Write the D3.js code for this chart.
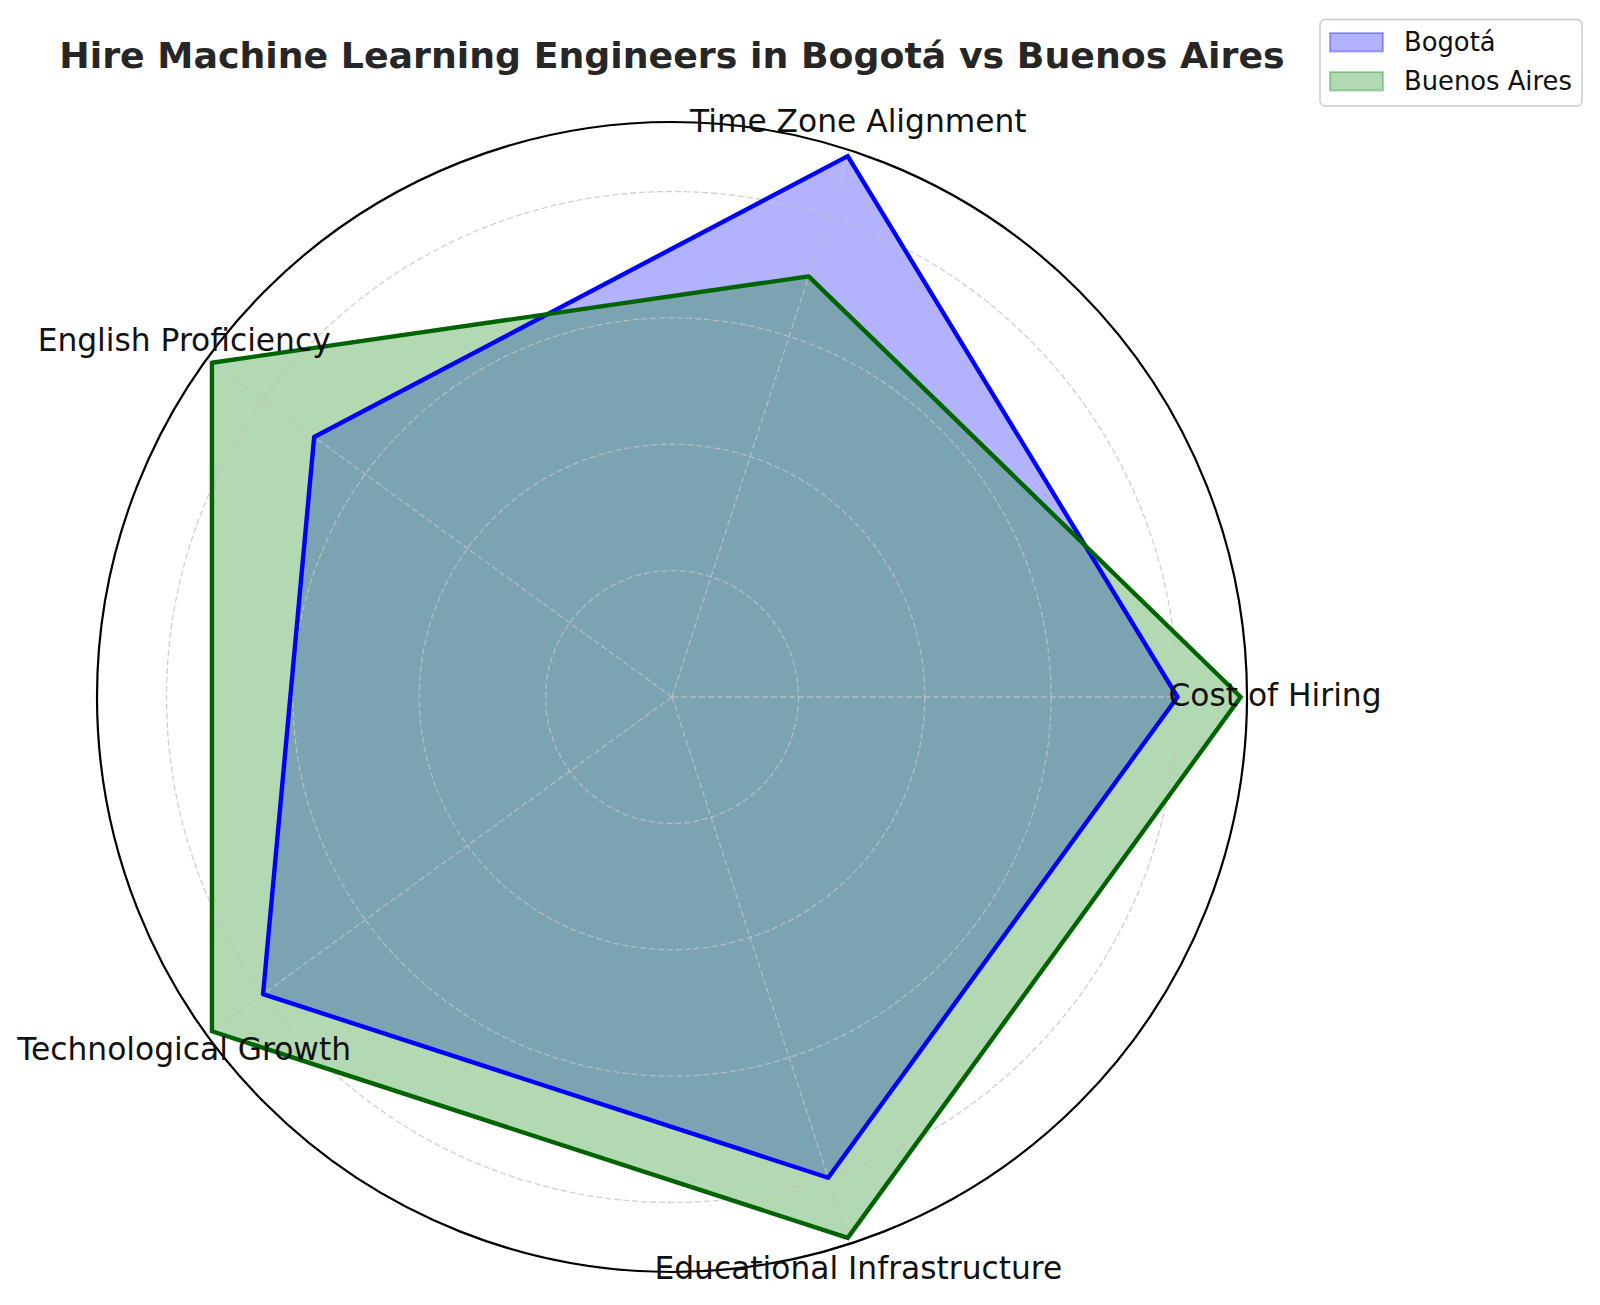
<!doctype html>
<html lang="en">
<head>
  <meta charset="utf-8" />
  <title>Hire Machine Learning Engineers in Bogotá vs Buenos Aires</title>
  <script src="https://d3js.org/d3.v7.min.js"></script>
  <style>
    body { margin: 0; background: #fff; }
    text { font-family: "DejaVu Sans", sans-serif; }
  </style>
</head>
<body>
  <div id="chart"></div>
  <script>
    // chart data
    const categories = ["Cost of Hiring", "Time Zone Alignment", "English Proficiency",
      "Technological Growth", "Educational Infrastructure"];
    const bogota = [8, 9, 7, 8, 8];
    const buenosAires = [9, 7, 9, 9, 9];
    const radialTicks = [2, 4, 6, 8];
    const seriesNames = ["Bogotá", "Buenos Aires"];

    const width = 1600,
      height = 1305;
    const cx = 672, cy = 697, outerR = 575;
    const rMax = 9.1;

    const svg = d3.select("#chart")
      .append("svg")
      .attr("width", width)
      .attr("height", height);

    const r = d3.scaleLinear().domain([0, rMax]).range([0, outerR]);
    // math angle (counterclockwise from 3 o'clock) for category i
    const theta = d3.scaleLinear().domain([0, categories.length]).range([0, 2 * Math.PI]);
    // d3 radial angle: 0 at 12 o'clock, clockwise
    const radialAngle = i => Math.PI / 2 - theta(i);

    const g = svg.append("g").attr("transform", `translate(${cx}, ${cy})`);

    const series = [
      { name: seriesNames[0], values: bogota, fill: "blue", line: "blue" },
      { name: seriesNames[1], values: buenosAires, fill: "green", line: "darkgreen" }
    ];

    const radarLine = d3.lineRadial()
      .angle((d, i) => radialAngle(i))
      .radius(d => r(d))
      .curve(d3.curveLinearClosed);

    // fills first (patches sit below grid)
    g.selectAll(".area")
      .data(series)
      .join("path")
      .attr("class", "area")
      .attr("d", d => radarLine(d.values))
      .attr("fill", d => d.fill)
      .attr("fill-opacity", 0.3)
      .attr("stroke", "none");

    // grid
    const gridG = g.append("g")
      .attr("stroke", "#c4c4c4")
      .attr("stroke-opacity", 0.8)
      .attr("stroke-width", 1.3)
      .attr("stroke-dasharray", "6,3")
      .attr("fill", "none");

    gridG.selectAll("circle")
      .data(radialTicks)
      .join("circle")
      .attr("r", d => r(d));

    gridG.selectAll("line")
      .data(categories)
      .join("line")
      .attr("x1", 0).attr("y1", 0)
      .attr("x2", (d, i) => r(rMax) * Math.cos(theta(i)))
      .attr("y2", (d, i) => -r(rMax) * Math.sin(theta(i)));

    // outlines
    g.selectAll(".outline")
      .data(series)
      .join("path")
      .attr("class", "outline")
      .attr("d", d => radarLine(d.values))
      .attr("fill", "none")
      .attr("stroke", d => d.line)
      .attr("stroke-width", 4.4)
      .attr("stroke-linejoin", "round");

    // outer spine
    g.append("circle")
      .attr("r", r(rMax))
      .attr("fill", "none")
      .attr("stroke", "black")
      .attr("stroke-width", 2.2);

    // category labels
    const labelR = r(rMax) + 28;
    g.selectAll(".cat")
      .data(categories)
      .join("text")
      .attr("class", "cat")
      .attr("x", (d, i) => labelR * Math.cos(theta(i)))
      .attr("y", (d, i) => -labelR * Math.sin(theta(i)) + 8.8)
      .attr("text-anchor", "middle")
      .style("font-size", "31.3px")
      .style("fill", "#111")
      .text(d => d);

    // title
    svg.append("text")
      .attr("x", cx)
      .attr("y", 68)
      .attr("text-anchor", "middle")
      .style("font-size", "36.3px")
      .style("font-weight", "bold")
      .style("fill", "#262626")
      .text("Hire Machine Learning Engineers in Bogotá vs Buenos Aires");

    // legend
    const legendG = svg.append("g");
    legendG.append("rect")
      .attr("x", 1320).attr("y", 19.5)
      .attr("width", 262).attr("height", 86.5)
      .attr("rx", 5)
      .attr("fill", "white")
      .attr("fill-opacity", 0.8)
      .attr("stroke", "#cccccc")
      .attr("stroke-width", 1.5);

    const rowH = 39;
    legendG.selectAll(".swatch")
      .data(series)
      .join("rect")
      .attr("class", "swatch")
      .attr("x", 1330)
      .attr("y", (d, i) => 33 + i * rowH)
      .attr("width", 53)
      .attr("height", 18.5)
      .attr("fill", d => d.fill)
      .attr("fill-opacity", 0.3)
      .attr("stroke", d => d.fill)
      .attr("stroke-opacity", 0.3)
      .attr("stroke-width", 2);

    legendG.selectAll(".ltext")
      .data(series)
      .join("text")
      .attr("class", "ltext")
      .attr("x", 1404)
      .attr("y", (d, i) => 51 + i * rowH)
      .style("font-size", "25.8px")
      .style("fill", "#111")
      .text(d => d.name);
  </script>
</body>
</html>
